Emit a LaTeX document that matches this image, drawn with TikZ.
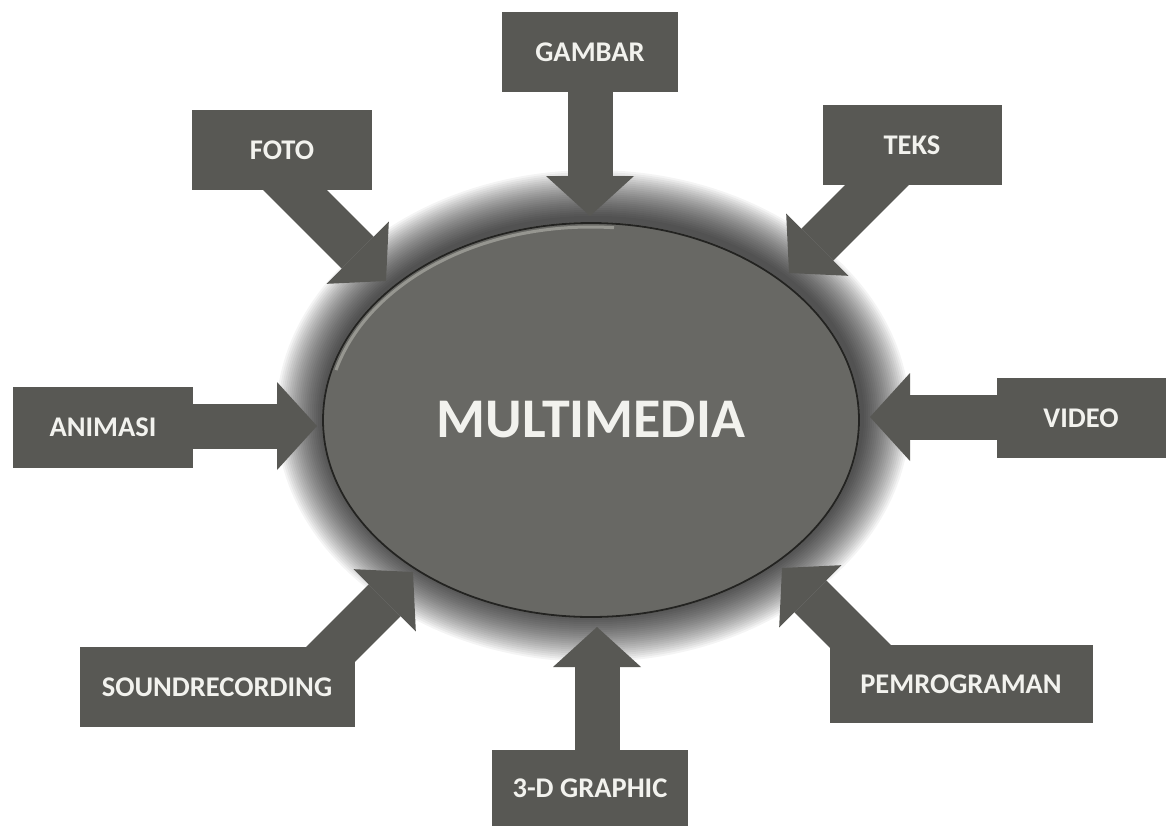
\documentclass[tikz,border=0pt]{standalone}
\usepackage{fontspec}
\setmainfont{Carlito}
\usetikzlibrary{shapes.geometric,arrows.meta}
\definecolor{boxgray}{RGB}{88,88,84}
\definecolor{ellgray}{RGB}{104,104,100}
\definecolor{txtwhite}{RGB}{242,242,238}
\definecolor{edgedark}{RGB}{35,35,33}
\definecolor{edgelight}{RGB}{150,150,144}
\begin{document}
\begin{tikzpicture}[x=1pt,y=-1pt,
  lbl/.style={fill=boxgray, text=txtwhite, font=\fontsize{28.5}{30}\selectfont\bfseries, inner sep=0pt},
  bigarrow/.style={draw=boxgray, line width=45pt, -{Triangle[width=88pt 0 0, length=40pt 0 0, line width=0pt]}},
  glow/.style={fill=black, opacity=0.045},
]
\fill[white] (0,0) rectangle (1168,828);
\useasboundingbox (0,0) rectangle (1168,828);

% glow around the central ellipse
\foreach \i in {1,...,24}{
  \fill[glow] (593,416) ellipse ({269+2*\i} and {198+2*\i});
}
% central ellipse
\node[ellipse, minimum width=538pt, minimum height=396pt, inner sep=0pt, fill=ellgray,
      text=txtwhite, font=\fontsize{56}{60}\selectfont\bfseries] (mm) at (591,420) {MULTIMEDIA};
\draw[edgedark, line width=1.8pt] (mm.center) ellipse (268 and 197);
\draw[edgelight, line width=3pt] ([shift={(195:264 and 193)}]mm.center)
   arc[start angle=195, end angle=275, x radius=264, y radius=193];

% arrow start points (inside the boxes) and tips
\coordinate (fotoS) at (265,160);   \coordinate (fotoT) at (386,281);
\coordinate (gambarS) at (590,60);  \coordinate (gambarT) at (590,216);
\coordinate (teksS) at (907,155);   \coordinate (teksT) at (789,273);
\coordinate (animS) at (150,426);   \coordinate (animT) at (317,426);
\coordinate (videoS) at (1040,417); \coordinate (videoT) at (870,417);
\coordinate (soundS) at (308,677);  \coordinate (soundT) at (413,572);
\coordinate (pemS) at (889,675);    \coordinate (pemT) at (782,568);
\coordinate (gfxS) at (597,770);    \coordinate (gfxT) at (597,627);

\draw[bigarrow] (fotoS) -- (fotoT);
\draw[bigarrow] (gambarS) -- (gambarT);
\draw[bigarrow] (teksS) -- (teksT);
\draw[bigarrow] (animS) -- (animT);
\draw[bigarrow] (videoS) -- (videoT);
\draw[bigarrow] (soundS) -- (soundT);
\draw[bigarrow] (pemS) -- (pemT);
\draw[bigarrow] (gfxS) -- (gfxT);

% label boxes
\node[lbl, minimum width=180pt, minimum height=80pt] (foto) at (282,150) {FOTO};
\node[lbl, minimum width=176pt, minimum height=80pt] (gambar) at (590,52) {GAMBAR};
\node[lbl, minimum width=179pt, minimum height=80pt] (teks) at (912,145) {TEKS};
\node[lbl, minimum width=180pt, minimum height=81pt] (animasi) at (103,427) {ANIMASI};
\node[lbl, minimum width=169pt, minimum height=80pt] (video) at (1081,418) {VIDEO};
\node[lbl, minimum width=275pt, minimum height=80pt] (sound) at (217,687) {SOUNDRECORDING};
\node[lbl, minimum width=263pt, minimum height=78pt] (pemro) at (961,684) {PEMROGRAMAN};
\node[lbl, minimum width=196pt, minimum height=76pt] (gfx) at (590,788) {3-D GRAPHIC};
\end{tikzpicture}
\end{document}
